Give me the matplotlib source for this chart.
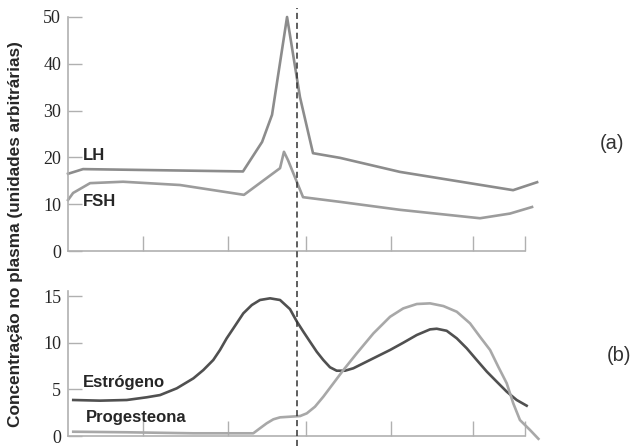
import matplotlib
matplotlib.use("Agg")
from matplotlib import pyplot as plt
from matplotlib.lines import Line2D
from matplotlib.transforms import blended_transform_factory

# Top panel (a): gonadotropins, x in days of the cycle
lh_day = [0.0, 0.92, 10.72, 11.89, 12.5, 13.42, 14.21, 15.01, 16.67, 20.34, 27.27, 28.74]
lh_val = [16.5, 17.5, 17.0, 23.3, 29.1, 50.0, 32.9, 20.9, 19.9, 16.9, 13.0, 14.7]
fsh_day = [0.0, 0.31, 1.35, 3.37, 6.86, 10.78, 12.99, 13.23, 13.48, 14.4, 16.67, 20.34, 25.24, 27.08, 28.43]
fsh_val = [10.9, 12.4, 14.5, 14.8, 14.1, 12.0, 17.7, 21.2, 19.4, 11.5, 10.5, 8.8, 7.0, 8.0, 9.4]

# Bottom panel (b): ovarian hormones
est_day = [0.32, 1.96, 3.6, 4.82, 5.64, 6.66, 7.68, 8.29, 8.9, 9.31, 9.72, 10.13, 10.74,
           11.26, 11.76, 12.38, 12.99, 13.6, 14.01, 14.42, 14.83, 15.24, 15.64, 16.05,
           16.46, 16.97, 17.48, 18.5, 19.73, 20.54, 21.37, 22.18, 22.59, 23.2, 23.82,
           24.43, 25.04, 25.66, 26.27, 26.88, 27.49, 28.1]
est_val = [3.86, 3.79, 3.86, 4.15, 4.39, 5.11, 6.18, 7.07, 8.15, 9.22, 10.47, 11.54, 13.15,
           14.04, 14.58, 14.76, 14.58, 13.6, 12.3, 11.18, 10.1, 9.03, 8.15, 7.37,
           7.0, 7.0, 7.26, 8.15, 9.22, 10.0, 10.83, 11.43, 11.5, 11.28, 10.47,
           9.4, 8.15, 6.9, 5.82, 4.75, 3.86, 3.25]
prog_day = [0.32, 3.6, 7.68, 11.35, 11.76, 12.17, 12.58, 12.99, 13.6, 14.22, 14.63, 15.13,
            15.64, 16.26, 16.87, 17.69, 18.71, 19.73, 20.54, 21.37, 22.18, 23.0, 23.82,
            24.63, 25.24, 25.86, 26.36, 26.88, 27.28, 27.69, 28.31, 28.82]
prog_val = [0.46, 0.4, 0.29, 0.29, 0.83, 1.36, 1.79, 2.0, 2.07, 2.14, 2.43, 3.14,
            4.21, 5.65, 7.07, 8.86, 11.0, 12.78, 13.68, 14.15, 14.22, 13.93, 13.32,
            12.08, 10.64, 9.22, 7.43, 5.65, 3.5, 1.71, 0.64, -0.3]

x_ticks = [4.6, 9.8, 14.6, 19.8, 24.8, 28]
ovulation_day = 14

spine_col = "#b0b0b0"
text_col = "#262626"

fig = plt.figure(figsize=(6.34, 4.46), dpi=100)
ax_a = fig.add_axes([0.1073, 0.4372, 0.7208, 0.5247])
ax_b = fig.add_axes([0.1073, 0.0224, 0.7208, 0.3242])


def style_axis(ax, yticks, ylim):
    ax.set_xlim(0, 28)
    ax.set_ylim(*ylim)
    ax.set_xticks(x_ticks)
    ax.set_xticklabels([])
    ax.set_yticks(yticks)
    ax.set_yticklabels([str(t) for t in yticks], family="Liberation Serif", fontsize=13, color=text_col)
    for side in ("top", "right"):
        ax.spines[side].set_visible(False)
    for side in ("left", "bottom"):
        ax.spines[side].set_color(spine_col)
        ax.spines[side].set_linewidth(1.2)
    ax.tick_params(axis="x", direction="in", length=11, width=1.0, color=spine_col)
    ax.tick_params(axis="y", direction="in", length=10, width=1.0, color=spine_col, pad=5)


style_axis(ax_a, [0, 10, 20, 30, 40, 50], (0, 50))
style_axis(ax_b, [0, 5, 10, 15], (0, 15.5))

ax_a.plot(lh_day, lh_val, color="#8c8c8c", lw=1.9, clip_on=False)
ax_a.plot(fsh_day, fsh_val, color="#9c9c9c", lw=1.9, clip_on=False)
ax_b.plot(est_day, est_val, color="#505050", lw=1.9, clip_on=False)
ax_b.plot(prog_day, prog_val, color="#a8a8a8", lw=1.9, clip_on=False)

lbl = dict(family="Liberation Sans", fontweight="bold", fontsize=12, color=text_col,
           ha="left", va="center")
ax_a.text(0.92, 20.5, "LH", **lbl)
ax_a.text(0.92, 10.5, "FSH", **lbl)
ax_b.text(0.92, 5.7, "Estrógeno", **lbl)
ax_b.text(1.1, 2.0, "Progesteona", **lbl)

# dashed line marking ovulation, across both panels
trans = blended_transform_factory(ax_a.transData, fig.transFigure)
fig.add_artist(Line2D([ovulation_day, ovulation_day], [0.0, 0.982], transform=trans,
                      color="#333333", lw=1.1, linestyle=(0, (4, 2.5))))

fig.text(0.024, 0.475, "Concentração no plasma (unidades arbitrárias)", rotation=90,
         family="Liberation Sans", fontweight="bold", fontsize=12.4, color=text_col,
         ha="center", va="center")
fig.text(0.965, 0.679, "(a)", family="Liberation Sans", fontsize=14.5, color="#333333",
         ha="center", va="center")
fig.text(0.977, 0.204, "(b)", family="Liberation Sans", fontsize=14.5, color="#333333",
         ha="center", va="center")

fig.savefig("out.png", dpi=100)
